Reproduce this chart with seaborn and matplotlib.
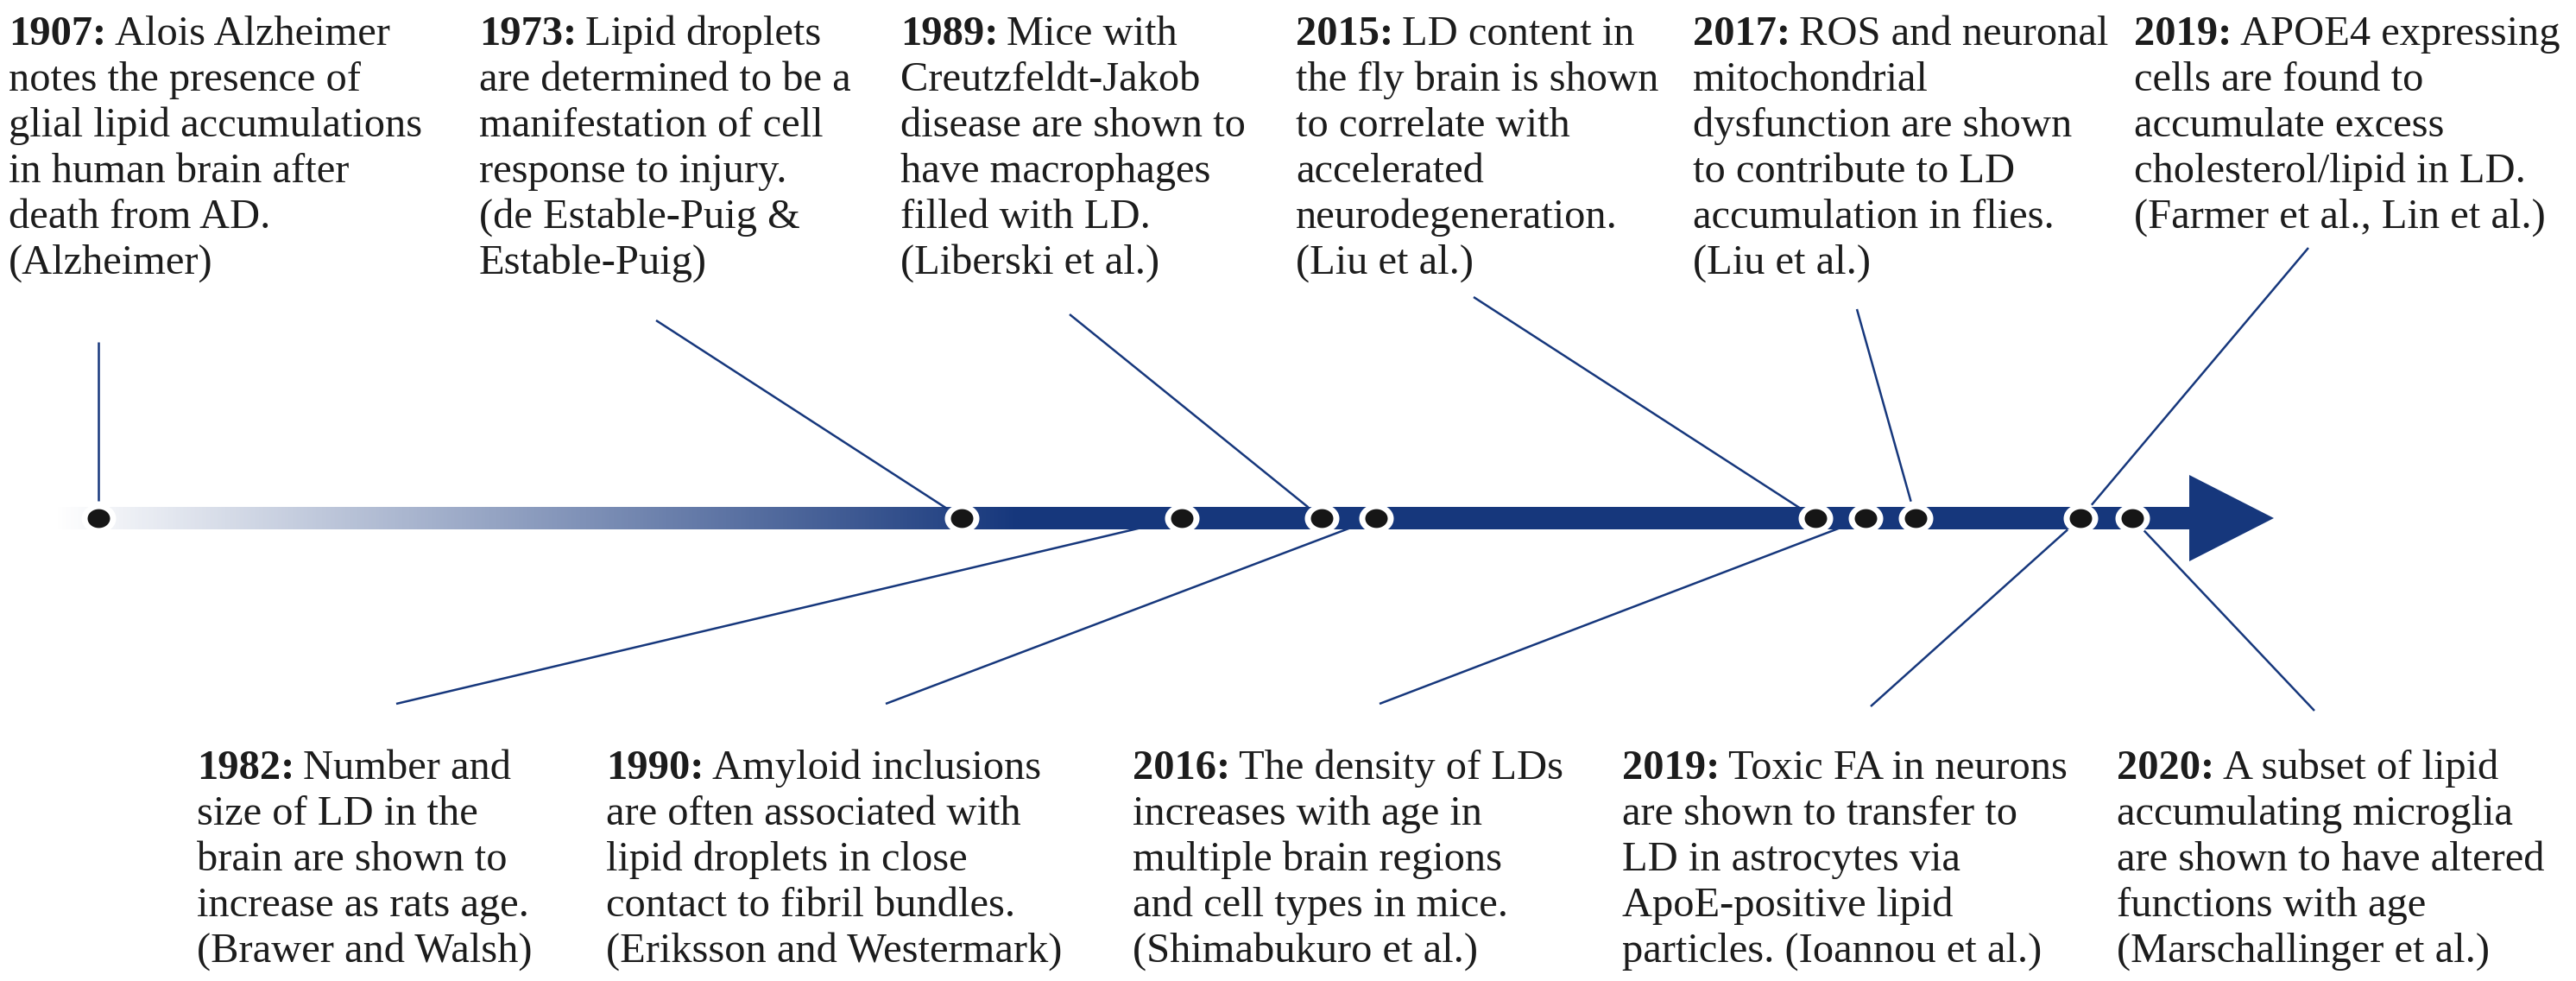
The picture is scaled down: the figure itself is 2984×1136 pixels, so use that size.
import numpy as np
import pandas as pd
import matplotlib
matplotlib.use("Agg")
import matplotlib.pyplot as plt
import seaborn as sns
from matplotlib import font_manager
from matplotlib.colors import LinearSegmentedColormap
from matplotlib.path import Path

# Events in timeline order
years = ["1907", "1973", "1982", "1989", "1990", "2015", "2016", "2017", "2019", "2019", "2020"]
sides = ["top", "top", "bottom", "top", "bottom", "top", "bottom", "top", "top", "bottom", "bottom"]
texts = [
    ["Alois Alzheimer", "notes the presence of", "glial lipid accumulations",
     "in human brain after", "death from AD.", "(Alzheimer)"],
    ["Lipid droplets", "are determined to be a", "manifestation of cell",
     "response to injury.", "(de Estable-Puig &", "Estable-Puig)"],
    ["Number and", "size of LD in the", "brain are shown to",
     "increase as rats age.", "(Brawer and Walsh)"],
    ["Mice with", "Creutzfeldt-Jakob", "disease are shown to",
     "have macrophages", "filled with LD.", "(Liberski et al.)"],
    ["Amyloid inclusions", "are often associated with", "lipid droplets in close",
     "contact to fibril bundles.", "(Eriksson and Westermark)"],
    ["LD content in", "the fly brain is shown", "to correlate with",
     "accelerated", "neurodegeneration.", "(Liu et al.)"],
    ["The density of LDs", "increases with age in", "multiple brain regions",
     "and cell types in mice.", "(Shimabukuro et al.)"],
    ["ROS and neuronal", "mitochondrial", "dysfunction are shown",
     "to contribute to LD", "accumulation in flies.", "(Liu et al.)"],
    ["APOE4 expressing", "cells are found to", "accumulate excess",
     "cholesterol/lipid in LD.", "(Farmer et al., Lin et al.)"],
    ["Toxic FA in neurons", "are shown to transfer to", "LD in astrocytes via",
     "ApoE-positive lipid", "particles. (Ioannou et al.)"],
    ["A subset of lipid", "accumulating microglia", "are shown to have altered",
     "functions with age", "(Marschallinger et al.)"],
]
# place of each event along the arrow (not linear in years)
timeline_pos = [114, 1114, 1369, 1531, 1594, 2103, 2161, 2219, 2410, 2410, 2470]

# layout: left edge of each text block, outer end of each connector line
label_x = [10, 555, 228, 1043, 702, 1501, 1312, 1961, 2472, 1879, 2452]
stem_x = [114, 760, 459, 1239, 1026, 1707, 1598, 2151, 2674, 2167, 2681]
stem_y = [396, 371, 815, 364, 815, 344, 815, 358, 287, 818, 823]

W, H, DPI = 2984, 1136, 100
AXIS_Y = 600
BAR_HALF = 13
NAVY = "#16377c"
INK = "#1c1c1c"
TOP_BASE, BOTTOM_BASE, LINE_STEP = 52, 902, 53

sns.set_style("white")
available = {f.name for f in font_manager.fontManager.ttflist}
family = "DejaVu Serif Condensed" if "DejaVu Serif Condensed" in available else "Liberation Serif"
plt.rcParams["font.family"] = [family, "DejaVu Serif"]

fig = plt.figure(figsize=(W / DPI, H / DPI), dpi=DPI)
ax = fig.add_axes([0, 0, 1, 1])

# arrow shaft: fade in from white, then solid, then the head
shaft_start, fade_end, head_start, head_tip = 64, 1182, 2536, 2634
fade = LinearSegmentedColormap.from_list("fade", ["#ffffff", NAVY])
ax.imshow(np.linspace(0, 1, 512)[None, :], cmap=fade, aspect="auto",
          extent=(shaft_start, fade_end, AXIS_Y + BAR_HALF, AXIS_Y - BAR_HALF), zorder=1)
ax.fill_between([fade_end - 1, head_start + 1], AXIS_Y - BAR_HALF, AXIS_Y + BAR_HALF,
                color=NAVY, lw=0, zorder=1)
ax.fill([head_start, head_tip, head_start], [AXIS_Y - 50, AXIS_Y, AXIS_Y + 50],
        color=NAVY, lw=0, zorder=1)

# connector lines, stopped short of the dots
for px, sx, sy in zip(timeline_pos, stem_x, stem_y):
    dx, dy = px - sx, AXIS_Y - sy
    dist = np.hypot(dx, dy)
    ex, ey = px - dx / dist * 20, AXIS_Y - dy / dist * 20
    ax.plot([sx, ex], [sy, ey], color=NAVY, lw=1.8, solid_capstyle="butt", zorder=2)

# dots: white halo with a black oval on top
dots = pd.DataFrame({"pos": sorted(set(timeline_pos))})
dots["y"] = AXIS_Y
t = np.linspace(0, 2 * np.pi, 64)
oval = Path(np.column_stack([np.cos(t), 0.84 * np.sin(t)]), closed=True)
sns.scatterplot(data=dots, x="pos", y="y", marker=oval, s=830, color="white",
                linewidth=0, zorder=3, ax=ax, legend=False)
sns.scatterplot(data=dots, x="pos", y="y", marker=oval, s=350, color="#161616",
                linewidth=0, zorder=4, ax=ax, legend=False)

ax.set_xlim(0, W)
ax.set_ylim(H, 0)
ax.axis("off")

# text blocks; font size fitted so one reference line has about its width in the picture
renderer = fig.canvas.get_renderer()
probe = ax.text(0, 0, "glial lipid accumulations", fontsize=30)
fs = 30 * 480 / probe.get_window_extent(renderer).width
probe.remove()

for yr, side, lines, lx in zip(years, sides, texts, label_x):
    y0 = TOP_BASE if side == "top" else BOTTOM_BASE
    head = ax.text(lx, y0, yr + ":", fontsize=fs, fontweight="bold", color=INK, va="baseline")
    bb = head.get_window_extent(renderer)
    ax.text(bb.x1 + 0.2 * fs * DPI / 72, y0, lines[0], fontsize=fs, color=INK, va="baseline")
    for i, line in enumerate(lines[1:], 1):
        ax.text(lx, y0 + i * LINE_STEP, line, fontsize=fs, color=INK, va="baseline")

fig.savefig("out.png", dpi=DPI, facecolor="white")
